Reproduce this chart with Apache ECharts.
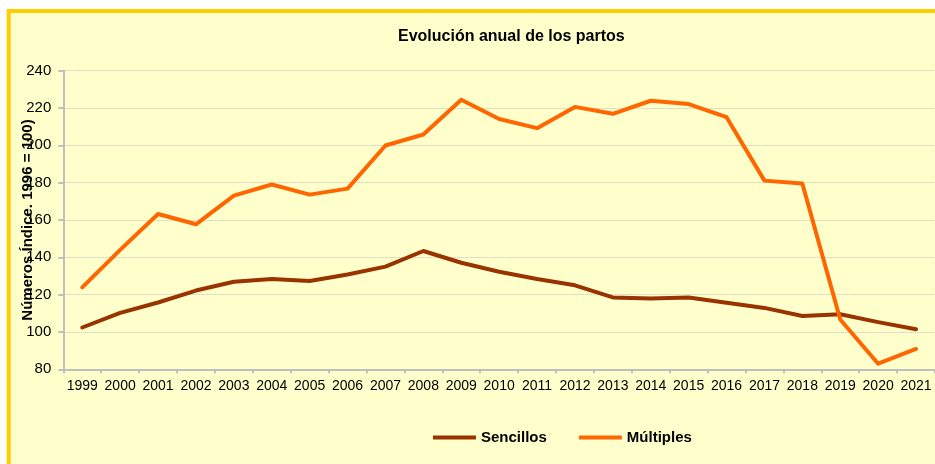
<!DOCTYPE html>
<html>
<head>
<meta charset="utf-8">
<script src="https://cdn.jsdelivr.net/npm/echarts@6/dist/echarts.min.js"></script>
<style>
html,body{margin:0;padding:0;background:#fff;}
#c{width:935px;height:464px;}
</style>
</head>
<body>
<div id="c"></div>
<script>
var years = ['1999','2000','2001','2002','2003','2004','2005','2006','2007','2008','2009','2010','2011','2012','2013','2014','2015','2016','2017','2018','2019','2020','2021'];
var sencillos = [102.4, 110.2, 115.8, 122.2, 126.9, 128.4, 127.3, 130.8, 135.0, 143.4, 137.1, 132.3, 128.4, 125.0, 118.5, 118.0, 118.5, 115.7, 112.9, 108.6, 109.5, 105.3, 101.5];
var multiples = [123.9, 144.0, 163.2, 157.7, 173.1, 179.0, 173.6, 176.8, 199.9, 205.8, 224.4, 214.1, 209.2, 220.6, 216.9, 223.9, 222.1, 215.1, 181.1, 179.5, 106.7, 83.0, 90.9];
var yMin = 80, yMax = 240, yStep = 20;
var titleText = 'Evolución anual de los partos';
var yTitle = 'Números Índice. 1996 = 100)';
var seriesNames = ['Sencillos', 'Múltiples'];

var FONT = '"Liberation Sans", Arial, sans-serif';
var chart = echarts.init(document.getElementById('c'), null, {renderer: 'canvas'});
chart.setOption({
  backgroundColor: '#ffffff',
  animation: false,
  graphic: [{
    type: 'rect', z: -100, silent: true,
    shape: {x: 8.7, y: 11, width: 960, height: 480},
    style: {fill: '#FFFFCC', stroke: '#FFCC00', lineWidth: 4}
  }],
  title: {
    text: titleText, left: 393, top: 24,
    textStyle: {fontFamily: FONT, fontSize: 16, fontWeight: 'bold', color: '#000'}
  },
  legend: {
    left: 428, top: 425, icon: 'rect', itemWidth: 43, itemHeight: 4, itemGap: 32,
    textStyle: {fontFamily: FONT, fontSize: 15, fontWeight: 'bold', color: '#000'},
    data: seriesNames
  },
  grid: {left: 63.3, top: 70.7, right: -4.6, bottom: 94.7, containLabel: false},
  xAxis: {
    type: 'category', data: years, boundaryGap: true,
    axisLine: {lineStyle: {color: '#BFBFBF', width: 2}},
    axisTick: {show: true, alignWithLabel: false, length: 4, lineStyle: {color: '#BFBFBF', width: 2}},
    axisLabel: {fontFamily: FONT, fontSize: 14, color: '#000', margin: 10, interval: 0},
    splitLine: {show: false}
  },
  yAxis: {
    type: 'value', min: yMin, max: yMax, interval: yStep,
    name: yTitle, nameLocation: 'middle', nameGap: 28, nameRotate: 90, nameMoveOverlap: false,
    nameTextStyle: {fontFamily: FONT, fontSize: 15, fontWeight: 'bold', color: '#000'},
    axisLine: {show: true, lineStyle: {color: '#BFBFBF', width: 2}},
    axisTick: {show: true, length: 5, lineStyle: {color: '#BFBFBF', width: 2}},
    axisLabel: {fontFamily: FONT, fontSize: 15, color: '#000', margin: 12},
    splitLine: {show: true, lineStyle: {color: '#C0C0C0', type: 'dotted', width: 1}}
  },
  series: [
    {name: seriesNames[0], type: 'line', data: sencillos, symbol: 'none', smooth: false,
     lineStyle: {color: '#993300', width: 4, cap: 'round', join: 'round'}, itemStyle: {color: '#993300'}, z: 3},
    {name: seriesNames[1], type: 'line', data: multiples, symbol: 'none', smooth: false,
     lineStyle: {color: '#FF6600', width: 4, cap: 'round', join: 'round'}, itemStyle: {color: '#FF6600'}, z: 4}
  ]
});
</script>
</body>
</html>
